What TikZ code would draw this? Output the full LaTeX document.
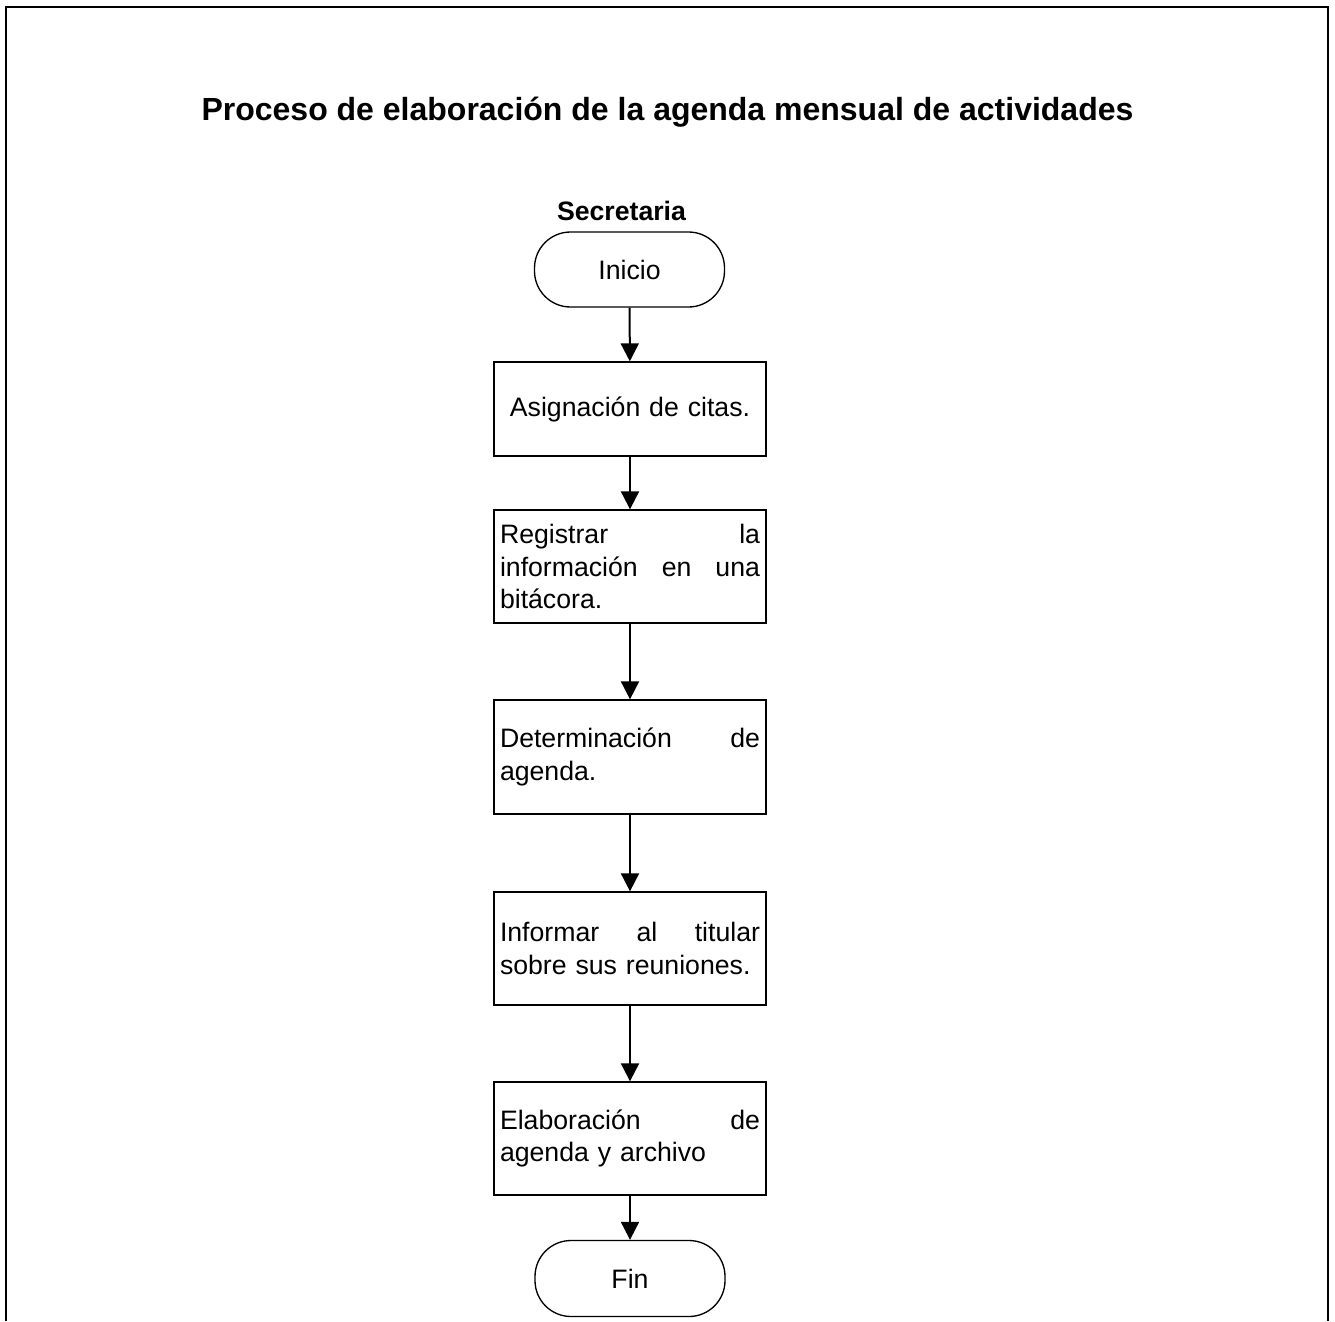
\documentclass[tikz,border=0pt]{standalone}
\usepackage{fontspec}
\setmainfont{Liberation Sans}
\usetikzlibrary{arrows.meta}
\begin{document}
\begin{tikzpicture}[x=0.75pt,y=-0.75pt,
  every node/.style={font=\fontsize{20pt}{24.4pt}\selectfont},
  term/.style={draw, line width=1pt, rounded corners=27pt,
    minimum width=142.5pt, minimum height=56.25pt, inner sep=0pt},
  proc/.style={draw, line width=1pt, text width=195pt, inner xsep=4.5pt,
    inner ysep=0pt, align=left},
  flow/.style={line width=1.5pt, -{Triangle[length=13.5pt,width=13.5pt]}},
  frame/.style={line width=1.5pt}]
  \useasboundingbox (0,0) rectangle (1335,1321);
  % open frame around the sheet
  \draw[frame] (6,1321) -- (6,7) -- (1328,7) -- (1328,1321);
  % headings
  \node[font=\fontsize{24pt}{29pt}\selectfont\bfseries] (title) at (667.5,112)
    {Proceso de elaboración de la agenda mensual de actividades};
  \node[font=\fontsize{20pt}{24pt}\selectfont\bfseries] (lane) at (621.5,211) {Secretaria};
  % steps
  \node[term] (inicio) at (629.5,269.5) {Inicio};
  \node[proc, align=center, minimum height=70.5pt] (b1) at (630,409) {Asignación de citas.};
  \node[proc, minimum height=84.75pt] (b2) at (630,566.5)
    {Registrar\hfill la\\información\hfill en\hfill una\\bitácora.};
  \node[proc, minimum height=85.5pt] (b3) at (630,757)
    {Determinación\hfill de\\agenda.};
  \node[proc, minimum height=84.75pt] (b4) at (630,948.5)
    {Informar\hfill al\hfill titular\\sobre sus reuniones.};
  \node[proc, minimum height=84.75pt] (b5) at (630,1138.5)
    {Elaboración\hfill de\\agenda y archivo};
  \node[term, minimum height=57pt] (fin) at (630,1278.5) {Fin};
  % connectors
  \draw[flow] (inicio) -- (b1);
  \draw[flow] (b1) -- (b2);
  \draw[flow] (b2) -- (b3);
  \draw[flow] (b3) -- (b4);
  \draw[flow] (b4) -- (b5);
  \draw[flow] (b5) -- (fin);
\end{tikzpicture}
\end{document}
